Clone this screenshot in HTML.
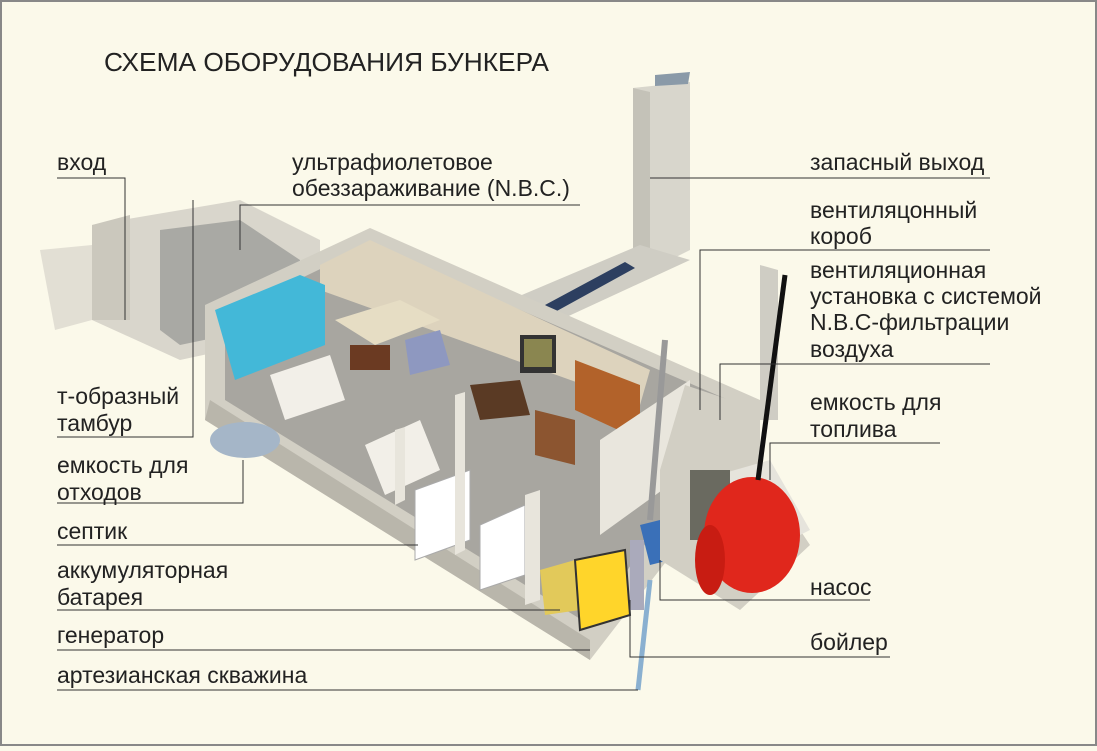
<!DOCTYPE html>
<html><head><meta charset="utf-8"><style>
html,body{margin:0;padding:0}
body{width:1097px;height:746px;background:#fbf9ea;font-family:"Liberation Sans",sans-serif;overflow:hidden}
svg text{font-family:"Liberation Sans",sans-serif;font-size:23px;fill:#222}
</style></head><body>
<svg width="1097" height="746" viewBox="0 0 1097 746">
<rect x="1" y="1" width="1095" height="744" fill="#fbf9ea" stroke="#888" stroke-width="2"/>
<text x="104" y="71" style="font-size:26.3px" fill="#333">СХЕМА ОБОРУДОВАНИЯ БУНКЕРА</text>

<!-- escape shaft -->
<polygon points="633,88 690,82 690,250 650,270 633,262" fill="#d8d6cc"/>
<polygon points="633,88 650,92 650,268 633,262" fill="#c4c2b8"/>
<polygon points="655,75 690,72 688,84 655,86" fill="#8a9aa8"/>
<!-- corridor -->
<polygon points="510,300 640,245 690,260 560,320" fill="#cfcdc4"/>
<polygon points="545,305 625,262 635,268 555,312" fill="#2d3f60"/>
<!-- entrance -->
<polygon points="92,225 240,200 320,240 320,330 180,360 92,320" fill="#d9d6cc"/>
<polygon points="92,225 130,215 130,320 92,320" fill="#cbc8bd"/>
<polygon points="160,230 240,220 300,260 300,320 180,345 160,330" fill="#a9a9a4"/>
<polygon points="40,250 92,245 92,320 55,330" fill="#e2dfd4"/>
<!-- main slab -->
<polygon points="205,305 370,228 760,400 760,440 590,660 205,420" fill="#d2cfc4"/>
<polygon points="205,420 590,660 590,640 210,400" fill="#b9b6ab"/>
<!-- interior floor -->
<polygon points="225,315 370,245 740,405 590,625 225,400" fill="#a8a6a0"/>
<!-- back wall -->
<polygon points="320,265 370,240 650,370 640,405 320,290" fill="#ddd3bd"/>
<!-- blue bathroom -->
<polygon points="215,310 300,275 325,285 325,345 235,380" fill="#43b8d8"/>
<!-- furniture -->
<polygon points="335,320 400,300 440,320 375,345" fill="#e6ddc4"/>
<rect x="350" y="345" width="40" height="25" fill="#6b3a22"/>
<polygon points="405,340 440,330 450,365 410,375" fill="#8e98c0"/>
<rect x="520" y="335" width="36" height="38" fill="#333"/>
<rect x="524" y="339" width="28" height="28" fill="#8a8650"/>
<polygon points="575,360 640,385 640,440 575,410" fill="#b2622a"/>
<polygon points="535,410 575,420 575,465 535,455" fill="#8c5530"/>
<polygon points="470,385 520,380 530,415 480,420" fill="#5a3a24"/>
<!-- beds -->
<polygon points="270,375 330,355 345,400 285,420" fill="#f2efe8"/>
<polygon points="365,445 420,420 440,470 385,495" fill="#f2efe8"/>
<polygon points="415,490 470,470 470,540 415,560" fill="#ffffff" stroke="#aaa"/>
<polygon points="480,525 525,505 525,575 480,590" fill="#ffffff" stroke="#aaa"/>
<!-- partition walls -->
<polygon points="455,395 465,392 465,550 455,555" fill="#e8e5dc"/>
<polygon points="395,430 405,427 405,500 395,505" fill="#e8e5dc"/>
<polygon points="525,495 540,490 540,600 525,605" fill="#e8e5dc"/>
<polygon points="600,440 690,380 690,470 600,535" fill="#e9e6dd"/>
<!-- equipment -->
<polygon points="540,570 575,560 580,610 545,615" fill="#e2c95a"/>
<polygon points="575,560 625,550 630,615 580,630" fill="#ffd52a" stroke="#333" stroke-width="2"/>
<polygon points="640,525 680,515 690,555 650,565" fill="#3a70b8"/>
<rect x="630" y="540" width="14" height="70" fill="#aab"/>
<line x1="650" y1="580" x2="638" y2="690" stroke="#8ab0d0" stroke-width="5"/>
<!-- right annex -->
<polygon points="685,385 760,410 760,460 800,530 810,545 740,610 660,560 660,470" fill="#d2cfc4"/>
<polygon points="700,480 770,460 810,530 790,540" fill="#e6e4dc"/>
<polygon points="760,265 778,270 778,420 760,420" fill="#cfcdc4"/>
<rect x="690" y="470" width="40" height="70" fill="#6a6a60"/>
<!-- fuel tank -->
<ellipse cx="752" cy="535" rx="48" ry="58" fill="#e0271c"/>
<ellipse cx="710" cy="560" rx="15" ry="35" fill="#c81c12"/>
<line x1="785" y1="275" x2="758" y2="480" stroke="#111" stroke-width="5"/>
<line x1="665" y1="340" x2="650" y2="520" stroke="#999" stroke-width="6"/>
<!-- septic -->
<ellipse cx="245" cy="440" rx="35" ry="18" fill="#a5b6c8"/>

<!-- leader lines -->
<g stroke="#333" stroke-width="1" fill="none">
<polyline points="57,178 125,178 125,320"/>
<polyline points="580,205 240,205 240,250"/>
<polyline points="990,178 650,178"/>
<polyline points="990,250 700,250 700,410"/>
<polyline points="990,364 720,364 720,420"/>
<polyline points="940,443 770,443 770,480"/>
<polyline points="57,437 193,437 193,200"/>
<polyline points="57,503 243,503 243,460"/>
<polyline points="57,545 418,545"/>
<polyline points="57,610 560,610"/>
<polyline points="57,650 590,650"/>
<polyline points="57,690 638,690"/>
<polyline points="870,600 660,600 660,560"/>
<polyline points="890,657 630,657 630,600"/>
</g>

<!-- labels -->
<text x="57" y="170">вход</text>
<text x="292" y="170">ультрафиолетовое</text>
<text x="292" y="196">обеззараживание (N.B.C.)</text>
<text x="810" y="170">запасный выход</text>
<text x="810" y="218">вентиляцонный</text>
<text x="810" y="244">короб</text>
<text x="810" y="278">вентиляционная</text>
<text x="810" y="304">установка с системой</text>
<text x="810" y="330">N.B.C-фильтрации</text>
<text x="810" y="357">воздуха</text>
<text x="810" y="410">емкость для</text>
<text x="810" y="437">топлива</text>
<text x="57" y="404">т-образный</text>
<text x="57" y="431">тамбур</text>
<text x="57" y="473">емкость для</text>
<text x="57" y="500">отходов</text>
<text x="57" y="539">септик</text>
<text x="57" y="578">аккумуляторная</text>
<text x="57" y="605">батарея</text>
<text x="57" y="643">генератор</text>
<text x="57" y="683">артезианская скважина</text>
<text x="810" y="595">насос</text>
<text x="810" y="650">бойлер</text>
</svg>
</body></html>
